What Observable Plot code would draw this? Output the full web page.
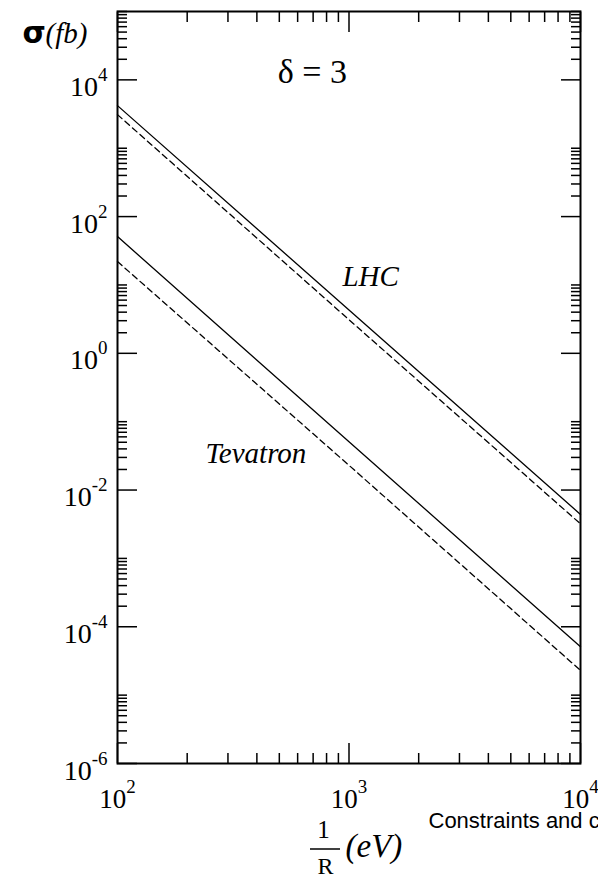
<!DOCTYPE html>
<html>
<head>
<meta charset="utf-8">
<script src="https://cdn.jsdelivr.net/npm/d3@7"></script>
<script src="https://cdn.jsdelivr.net/npm/@observablehq/plot@0.6"></script>
<style>
html, body { margin: 0; padding: 0; background: #fff; overflow: hidden; }
#chart svg { display: block; overflow: hidden; }
</style>
</head>
<body>
<div id="chart"></div>
<script>
// ---- data ----
const xValues   = [100, 1000, 10000];          // 1/R (eV)
const lhcSolid  = [4200, 4.3, 0.0044];         // sigma (fb)
const lhcDashed = [3100, 3.1, 0.0032];
const tevSolid  = [51, 0.051, 0.000051];
const tevDashed = [22, 0.023, 0.000023];

// ---- ticks ----
const xMajorTicks = [100, 1000, 10000];
const xMinorTicks = [200, 300, 400, 500, 600, 700, 800, 900,
                     2000, 3000, 4000, 5000, 6000, 7000, 8000, 9000];
const yMajorTicks = [1e-6, 1e-4, 1e-2, 1, 1e2, 1e4];
const yMinorTicks = [
  2e-6, 3e-6, 4e-6, 5e-6, 6e-6, 7e-6, 8e-6, 9e-6, 1e-5,
  2e-4, 3e-4, 4e-4, 5e-4, 6e-4, 7e-4, 8e-4, 9e-4, 1e-3,
  2e-2, 3e-2, 4e-2, 5e-2, 6e-2, 7e-2, 8e-2, 9e-2, 1e-1,
  2, 3, 4, 5, 6, 7, 8, 9, 10,
  200, 300, 400, 500, 600, 700, 800, 900, 1000,
  2e4, 3e4, 4e4, 5e4, 6e4, 7e4, 8e4, 9e4, 1e5
];

// ---- annotations (data coordinates) ----
const seriesLabels = [
  {x: 1240, y: 9.6, text: "LHC"},
  {x: 396, y: 0.0249, text: "Tevatron"}
];
const deltaLabel = [{x: 695, y: 8950, text: "δ = 3"}];

const series = [
  {name: "LHC solid", dashed: false, values: lhcSolid},
  {name: "LHC dashed", dashed: true, values: lhcDashed},
  {name: "Tevatron solid", dashed: false, values: tevSolid},
  {name: "Tevatron dashed", dashed: true, values: tevDashed}
];
const rows = series.flatMap(s => s.values.map((v, i) => ({series: s.name, dashed: s.dashed, x: xValues[i], y: v})));

const serif = "Liberation Serif, Times New Roman, serif";
const sans = "Liberation Sans, Arial, sans-serif";
const sup = d => `10^${Math.round(Math.log10(d))}`;

const plot = Plot.plot({
  width: 598,
  height: 877,
  marginLeft: 117,
  marginRight: 18,
  marginTop: 11,
  marginBottom: 114,
  style: {background: "#fff", color: "black"},
  x: {type: "log", domain: [100, 10000], label: null},
  y: {type: "log", domain: [1e-6, 1e5], label: null},
  marks: [
    // curves
    Plot.line(rows.filter(d => !d.dashed), {x: "x", y: "y", z: "series", stroke: "black", strokeWidth: 1.3}),
    Plot.line(rows.filter(d => d.dashed), {x: "x", y: "y", z: "series", stroke: "black", strokeWidth: 1.3, strokeDasharray: "6,4"}),
    // inward ticks
    Plot.axisX(xMajorTicks, {anchor: "bottom", tickSize: -20, strokeWidth: 1.5, fill: "none", label: null}),
    Plot.axisX(xMinorTicks, {anchor: "bottom", tickSize: -10, strokeWidth: 1.5, fill: "none", label: null}),
    Plot.axisX(xMajorTicks, {anchor: "top", tickSize: -20, strokeWidth: 1.5, fill: "none", label: null}),
    Plot.axisX(xMinorTicks, {anchor: "top", tickSize: -10, strokeWidth: 1.5, fill: "none", label: null}),
    Plot.axisY(yMajorTicks, {anchor: "left", tickSize: -20, strokeWidth: 1.5, fill: "none", label: null}),
    Plot.axisY(yMinorTicks, {anchor: "left", tickSize: -10, strokeWidth: 1.5, fill: "none", label: null}),
    Plot.axisY(yMajorTicks, {anchor: "right", tickSize: -20, strokeWidth: 1.5, fill: "none", label: null}),
    Plot.axisY(yMinorTicks, {anchor: "right", tickSize: -10, strokeWidth: 1.5, fill: "none", label: null}),
    Plot.frame({stroke: "black", strokeWidth: 2}),
    // tick labels
    Plot.text(yMajorTicks, {y: d => d, text: sup, frameAnchor: "left", textAnchor: "end", lineAnchor: "bottom",
      dx: -10, dy: 16, fontSize: 28, fontFamily: serif, fill: "black"}),
    Plot.text(xMajorTicks, {x: d => d, text: sup, frameAnchor: "bottom", textAnchor: "middle", lineAnchor: "bottom",
      dy: 44, fontSize: 27, fontFamily: serif, fill: "black"}),
    // annotations
    Plot.text(seriesLabels, {x: "x", y: "y", text: "text", textAnchor: "middle", lineAnchor: "bottom",
      fontSize: 29, fontStyle: "italic", fontFamily: serif, fill: "black"}),
    Plot.text(deltaLabel, {x: "x", y: "y", text: "text", textAnchor: "middle", lineAnchor: "bottom",
      fontSize: 34, fontFamily: serif, fill: "black"}),
    // y title
    Plot.text(["σ"], {text: d => d, frameAnchor: "top-left", textAnchor: "start", lineAnchor: "bottom",
      dx: -95, dy: 31, fontSize: 30, fontWeight: "bold", fontFamily: "DejaVu Sans, sans-serif", fill: "black"}),
    Plot.text(["(fb)"], {text: d => d, frameAnchor: "top-left", textAnchor: "start", lineAnchor: "bottom",
      dx: -72, dy: 31, fontSize: 29, fontStyle: "italic", fontFamily: serif, fill: "black"}),
    // x title
    Plot.text(["1"], {text: d => d, frameAnchor: "bottom-left", textAnchor: "middle", lineAnchor: "bottom",
      dx: 206, dy: 74, fontSize: 25, fontFamily: serif, fill: "black"}),
    Plot.text(["R"], {text: d => d, frameAnchor: "bottom-left", textAnchor: "middle", lineAnchor: "bottom",
      dx: 208, dy: 110, fontSize: 24, fontFamily: serif, fill: "black"}),
    Plot.text(["(eV)"], {text: d => d, frameAnchor: "bottom-left", textAnchor: "start", lineAnchor: "bottom",
      dx: 228, dy: 93, fontSize: 33, fontStyle: "italic", fontFamily: serif, fill: "black"}),
    Plot.text(["Constraints and c"], {text: d => d, frameAnchor: "bottom-left", textAnchor: "start", lineAnchor: "bottom",
      dx: 311, dy: 64, fontSize: 22, fontFamily: sans, fill: "black"})
  ]
});

// superscripts for "10^n" labels
const NS = "http://www.w3.org/2000/svg";
plot.querySelectorAll("text").forEach(t => {
  const m = /^10\^(-?\d+)$/.exec(t.textContent);
  if (!m) return;
  t.textContent = "";
  const base = document.createElementNS(NS, "tspan");
  base.textContent = "10";
  t.appendChild(base);
  const ex = document.createElementNS(NS, "tspan");
  ex.textContent = m[1];
  ex.setAttribute("font-size", "19");
  ex.setAttribute("dy", "-15");
  t.appendChild(ex);
});

// fraction bar of the x title
d3.select(plot).append("line")
  .attr("x1", 310).attr("x2", 340).attr("y1", 849).attr("y2", 849)
  .attr("stroke", "black").attr("stroke-width", 1.5);

document.getElementById("chart").appendChild(plot);
</script>
</body>
</html>
